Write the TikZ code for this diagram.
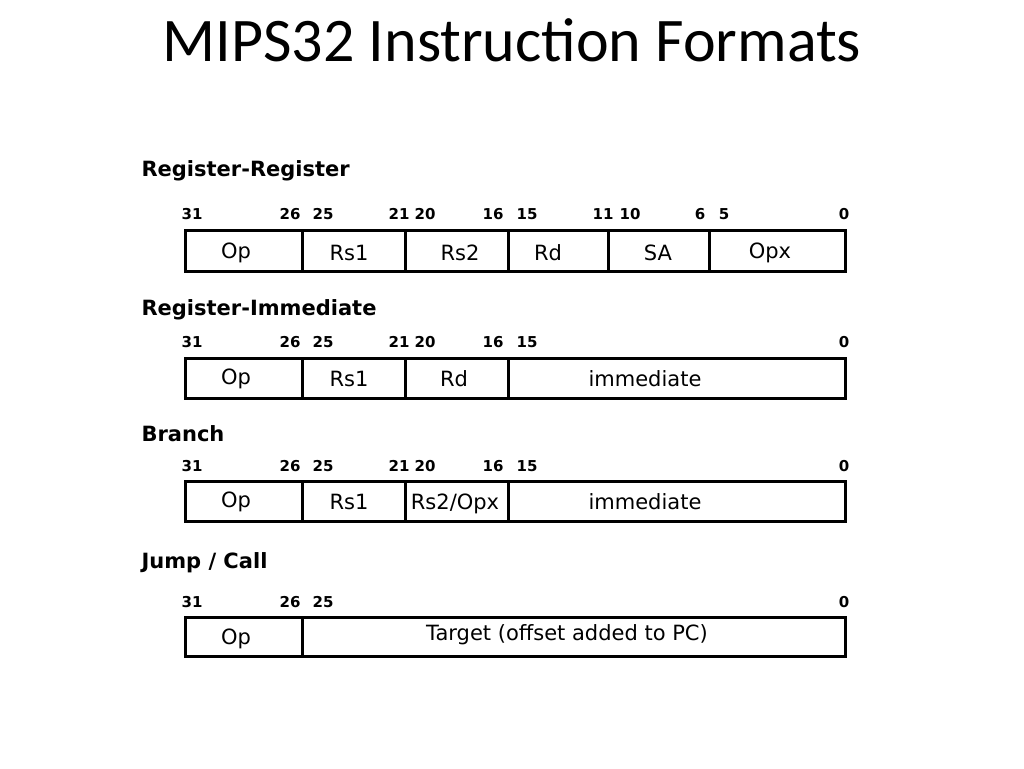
\documentclass[tikz,border=0pt]{standalone}
\usepackage{fontspec}
\setmainfont{DejaVu Sans}
\newfontfamily\titlefont{Carlito}
\begin{document}
\begin{tikzpicture}[x=1pt,y=-1pt,
  fld/.style={draw,line width=3pt,inner sep=0pt},
  lab/.style={font=\fontsize{21}{21}\selectfont\bfseries,anchor=west},
  bit/.style={font=\fontsize{15}{15}\selectfont\bfseries},
  txt/.style={font=\fontsize{21}{21}\selectfont}]
\useasboundingbox (0,0) rectangle (1024,768);
\node[font=\titlefont\fontsize{62}{62}\selectfont] (title) at (512,40) {MIPS32 Instruction Formats};
% labels
\node[lab] (l1) at (138,171) {Register-Register};
\node[lab] (l2) at (138,310) {Register-Immediate};
\node[lab] (l3) at (138,434) {Branch};
\node[lab] (l4) at (138,563) {Jump / Call};
% row 1
\draw[fld] (185,230) rectangle (845,271);
\foreach \x in {302,405,508,608,709} \draw[fld] (\x,230) -- (\x,271);
\foreach \x/\t in {236/Op,349/Rs1,460/Rs2,548/Rd,658/SA,770/Opx} \node[txt] at (\x,253) {\t};
\foreach \x/\t in {192/31,290/26,323/25,399/21,425/20,493/16,527/15,603/11,630/10,700/6,724/5,844/0} \node[bit] at (\x,214) {\t};
% row 2
\draw[fld] (185,358) rectangle (845,398);
\foreach \x in {302,405,508} \draw[fld] (\x,358) -- (\x,398);
\foreach \x/\t in {236/Op,349/Rs1,454/Rd,645/immediate} \node[txt] at (\x,379) {\t};
\foreach \x/\t in {192/31,290/26,323/25,399/21,425/20,493/16,527/15,844/0} \node[bit] at (\x,342) {\t};
% row 3
\draw[fld] (185,481) rectangle (845,521);
\foreach \x in {302,405} \draw[fld] (\x,481) -- (\x,521);
\foreach \x/\t in {236/Op,349/Rs1,645/immediate} \node[txt] at (\x,502) {\t};
\node[txt] (rs2opx) at (455,504) {Rs2/Opx};
\draw[fld] (508,481) -- (508,521);
\foreach \x/\t in {192/31,290/26,323/25,399/21,425/20,493/16,527/15,844/0} \node[bit] at (\x,466) {\t};
% row 4
\draw[fld] (185,617) rectangle (845,656);
\draw[fld] (302,617) -- (302,656);
\node[txt] at (236,639) {Op};
\node[txt] at (567,635) {Target (offset added to PC)};
\foreach \x/\t in {192/31,290/26,323/25,844/0} \node[bit] at (\x,602) {\t};
\end{tikzpicture}
\end{document}
